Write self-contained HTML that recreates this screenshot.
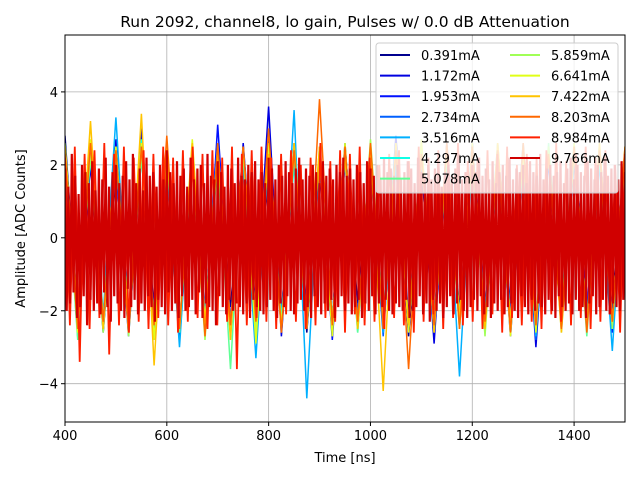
<!DOCTYPE html>
<html><head><meta charset="utf-8"><style>
body{margin:0;background:#fff;font-family:"Liberation Sans","DejaVu Sans",sans-serif}
svg text{font-family:"DejaVu Sans","Liberation Sans",sans-serif}
</style></head><body>
<svg id="c" width="640" height="480" xmlns="http://www.w3.org/2000/svg"></svg>
<script>
const labels=["0.391mA","1.172mA","1.953mA","2.734mA","3.516mA","4.297mA","5.078mA","5.859mA","6.641mA","7.422mA","8.203mA","8.984mA","9.766mA"];
const colors=["#00008f","#0000e0","#0010ff","#0060ff","#00b0ff","#10ffe6","#60ff96","#a0ff56","#e0ff16","#ffc400","#ff6800","#ff2000","#d00000"];
const s0=[2.8,-2.4,2.1,-2.6,1.9,-2.2,2.5,-2.0,2.3,-2.7,2.0,-2.3,2.6,-1.9,2.2,-2.5,1.8,-2.1,2.4,-2.6,2.0,-2.2,2.5,-1.8,2.3,-2.4,2.1,-2.7,1.9,-2.3,2.6,-2.0,2.2,-2.5,2.4,-1.9,2.0,-2.6,2.3,-2.2,2.1,-2.4,2.5,-2.0,2.4];
const s1=[2.3,-2.6,2.0,-2.3,2.7,-2.1,3.0,-2.4,2.2,-2.8,2.1,-2.2,2.4,-2.5,2.6,-2.0,3.6,-2.7,2.2,-2.3,2.0,-2.6,2.5,-2.1,2.3,-2.4,2.8,-2.2,2.1,-2.9,2.4,-2.3,2.6,-2.0,2.2,-2.5,2.3,-3.0,2.1,-2.4,2.5,-2.2,2.4,-2.6,2.0];
const s2=[2.1,-2.5,2.4,-2.2,2.0,-2.7,2.3,-2.1,2.5,-2.4,2.2,-2.6,3.1,-2.3,2.0,-2.5,2.4,-2.2,2.6,-2.0,2.3,-2.8,2.1,-2.4,2.5,-2.2,2.0,-2.6,2.4,-2.3,2.2,-2.1,2.6,-2.5,2.3,-2.7,2.1,-2.4,2.2,-2.3,2.5,-2.0,2.4,-2.6,2.3];
const s3=[2.4,-2.2,2.6,-2.5,2.1,-2.3,2.3,-2.8,2.0,-2.4,2.5,-2.1,2.2,-2.6,2.4,-2.3,2.7,-2.0,2.1,-2.5,2.3,-2.2,2.6,-2.4,2.0,-2.7,2.2,-2.3,2.5,-2.6,2.1,-2.2,2.4,-2.5,2.3,-2.0,2.6,-2.8,2.2,-2.4,2.1,-2.3,2.5,-2.2,2.2];
const s4=[2.2,-2.7,2.5,-2.1,3.3,-2.4,2.3,-2.6,2.1,-3.0,2.4,-2.2,2.6,-2.5,2.0,-3.3,2.2,-2.4,3.5,-4.4,2.3,-2.5,2.1,-2.2,2.4,-2.6,2.0,-2.3,2.5,-2.4,2.2,-3.8,2.3,-2.1,2.6,-2.5,2.1,-2.7,2.4,-2.2,2.3,-2.4,2.0,-3.1,2.3];
const s5=[2.5,-2.3,2.2,-2.5,2.4,-2.1,2.7,-2.4,2.3,-2.6,2.1,-2.3,2.5,-2.7,2.2,-2.4,2.6,-2.2,2.0,-2.5,2.4,-2.3,2.2,-2.6,2.5,-2.1,2.3,-2.4,2.6,-2.2,2.1,-2.5,2.4,-2.3,2.2,-2.6,2.5,-2.4,2.3,-2.1,2.6,-2.5,2.2,-2.3,2.4];
const s6=[2.3,-2.8,2.6,-2.2,2.4,-2.5,2.2,-2.3,2.5,-2.6,2.3,-2.4,2.1,-3.6,2.4,-2.2,2.6,-2.5,2.3,-2.4,2.5,-2.2,2.2,-2.6,2.4,-2.3,2.6,-2.5,2.2,-2.4,2.5,-2.1,2.3,-2.6,2.4,-2.3,2.2,-2.5,2.6,-2.2,2.4,-2.7,2.3,-2.4,2.2];
const s7=[2.6,-2.4,2.3,-2.6,2.5,-2.7,2.4,-2.3,2.6,-2.5,2.2,-2.8,2.5,-2.4,2.3,-2.6,2.4,-2.5,2.6,-2.3,2.2,-2.6,2.5,-2.4,2.7,-2.3,2.4,-2.5,2.3,-2.6,2.5,-2.4,2.2,-2.7,2.6,-2.5,2.4,-2.3,2.5,-2.6,2.3,-2.4,2.6,-2.5,2.4];
const s8=[2.4,-2.6,2.7,-2.4,2.5,-2.3,2.6,-2.8,2.4,-2.5,2.7,-2.4,2.3,-2.6,2.5,-2.9,2.6,-2.4,2.4,-2.5,2.3,-2.7,2.6,-2.5,2.4,-2.3,2.5,-2.6,2.7,-2.4,2.3,-2.5,2.6,-2.4,2.5,-2.7,2.4,-2.6,2.3,-2.4,2.6,-2.5,2.4,-2.3,2.5];
const s9=[2.5,-2.2,3.2,-2.5,2.4,-2.6,3.4,-3.5,2.5,-2.4,2.6,-2.3,2.4,-2.8,2.5,-2.2,2.3,-2.6,2.6,-2.4,2.5,-2.3,2.2,-2.5,2.4,-4.2,2.6,-2.4,2.3,-2.6,2.5,-2.2,2.4,-2.5,2.6,-2.3,2.5,-2.4,2.3,-2.6,2.4,-2.5,2.6,-2.3,2.4];
const s10=[2.3,-2.5,2.6,-2.3,2.4,-2.6,2.5,-2.4,2.8,-2.5,2.3,-2.7,2.6,-2.4,2.5,-2.3,3.0,-2.6,2.4,-2.5,3.8,-2.4,2.5,-2.3,2.6,-2.5,2.4,-3.6,2.3,-2.4,2.6,-2.5,2.5,-2.3,2.4,-2.6,2.6,-2.4,2.3,-2.5,2.5,-2.6,2.4,-2.3,2.5];
const s11=[2.2,-2.4,2.5,-3.4,2.3,-2.5,2.4,-2.2,2.6,-3.2,2.3,-2.4,2.5,-2.6,2.2,-2.3,2.4,-2.5,2.3,-2.2,2.5,-2.4,2.2,-2.6,2.4,-2.3,2.5,-2.2,2.3,-2.5,2.4,-2.4,2.2,-2.3,2.5,-3.6,2.3,-2.4,2.4,-2.2,2.5,-2.3,2.2,-2.5,2.3,
-2.1,2.4,-2.3,2.0,-2.5,2.2,-2.4,2.6,-2.2,2.1,-2.3,2.4,-2.6,2.3,-2.1,2.5,-2.4,2.2,-2.3,2.0,-2.5,2.3,-2.2,2.4,-2.4,2.1,-2.6,2.5,-2.3,2.2,-2.1,2.4,-2.5,2.3,-2.2,2.6,-2.4,2.1,-2.3,2.2,-2.5,2.4,-2.1,2.3,-2.6,2.5,-2.2,2.0,-2.4,2.3,-2.3,2.2,-2.5,2.4,-2.1,2.6,-2.3,2.1,-2.4,2.3,-2.2,2.5,-2.5,2.2,-2.3,2.4,-2.1,2.0,-2.6,2.3];
const s12=[1.9,-2.0,1.4,-1.8,2.3,-1.5,1.7,-2.2,1.2,-1.9,2.0,-1.6,1.8,-2.4,1.5,-1.7,2.1,-2.0,1.3,-1.8,
1.9,-2.1,1.6,-1.5,2.2,-1.9,1.4,-2.3,1.8,-1.6,2.0,-1.8,1.5,-2.0,1.7,-2.2,2.1,-1.4,1.6,-1.9,
2.3,-1.7,1.5,-2.1,1.9,-1.8,1.3,-2.0,2.2,-1.6,1.7,-1.9,1.8,-2.3,1.4,-1.7,2.0,-1.9,1.6,-2.1,
2.4,-1.5,1.8,-2.0,1.5,-1.8,2.1,-2.2,1.7,-1.6,1.9,-2.0,1.4,-1.9,2.2,-1.7,1.6,-2.1,1.9,-1.5,
2.0,-2.2,1.5,-1.8,2.3,-1.9,1.7,-2.0,1.6,-2.4,2.1,-1.6,1.8,-1.9,1.4,-2.1,2.0,-1.7,1.9,-2.0,
1.5,-1.8,2.2,-1.9,1.7,-2.1,1.6,-1.8,2.0,-2.2,1.8,-1.7,2.1,-1.9,1.6,-2.0,1.8,-2.1,1.5,-1.9,
2.2,-1.7,1.9,-2.0,1.6,-2.2,2.0,-1.8,1.7,-1.9,2.1,-1.6,1.8,-2.0,1.5,-2.1,1.9,-1.8,2.2,-1.7,
1.6,-2.0,1.9,-1.9,1.7,-2.2,2.0,-1.6,1.8,-1.9,1.5,-2.1,2.1,-1.8,1.7,-2.0,1.9,-1.7,1.6,-2.2,
2.0,-1.9,1.8,-1.6,2.2,-2.0,1.7,-1.8,1.9,-2.1,1.6,-1.9,2.0,-1.7,1.8,-2.2,1.5,-1.8,2.1,-2.0,
1.9,-1.6,1.7,-2.1,2.0,-1.8,1.6,-1.9,2.2,-1.7,1.8,-2.0,1.9,-2.1,1.7,-1.8,2.0,-1.9,1.6,-2.0,
1.8,-1.7,2.1,-2.2,1.9,-2.0,1.5,-1.9,2.2,-1.6,1.8,-2.1,1.7,-1.8,2.0,-2.3,1.6,-1.7,1.9,-2.0,
2.1,-1.8,1.4,-2.2,1.8,-1.9,2.0,-1.6,1.7,-2.1,1.9,-1.8,2.3,-1.7,1.6,-2.0,1.8,-2.2,1.5,-1.9,
2.0,-1.7,1.8,-2.0,2.2,-1.6,1.7,-2.1,1.9,-1.9,1.6,-2.2,2.1,-1.8,1.5,-2.0,1.8,-1.7,2.0,-2.1,
1.7,-1.9,2.2,-1.8,1.6,-2.0,1.9,-2.2,1.8,-1.6,2.0,-1.9,1.5,-2.1,2.1,-1.7,1.8,-2.0,1.7,-1.8,
2.3,-1.9,1.6,-2.1,1.9,-1.7,2.0,-2.0,1.7,-2.2,1.8,-1.6,2.1,-1.9,1.5,-2.0,1.9,-1.8,2.2,-2.1,
1.6,-1.7,2.0,-2.0,1.8,-1.9,1.7,-2.2,2.1,-1.8,1.9,-1.6,1.6,-2.1,2.0,-1.9,1.8,-1.7,2.2,-2.0,
1.7,-2.1,1.9,-1.8,2.0,-1.9,1.6,-2.0,2.1,-1.7,1.8];
const series=[s0,s1,s2,s3,s4,s5,s6,s7,s8,s9,s10,s11,s12];
const widths=[1.5,1.5,1.5,1.5,1.5,1.5,1.5,1.5,1.5,1.5,1.5,1.8,2.2];
const xTicks=[400,600,800,1000,1200,1400];
const yTicks=[-4,-2,0,2,4];
const X0=400,X1=1500,Y0=-5.05,Y1=5.56;
const L=65,R=625,T=35,B=422;
const sx=v=>L+(v-X0)/(X1-X0)*(R-L);
const sy=v=>B-(v-Y0)/(Y1-Y0)*(B-T);
const svg=document.getElementById('c');
const NS='http://www.w3.org/2000/svg';
function mk(t,a,p){const e=document.createElementNS(NS,t);for(const k in a)e.setAttribute(k,a[k]);(p||svg).appendChild(e);return e;}
const grid=mk('g',{});


xTicks.forEach(t=>{mk('line',{x1:sx(t),x2:sx(t),y1:T,y2:B,stroke:'#b0b0b0','stroke-width':0.8},grid);});
yTicks.forEach(t=>{mk('line',{x1:L,x2:R,y1:sy(t),y2:sy(t),stroke:'#b0b0b0','stroke-width':0.8},grid);});
const cp=mk('clipPath',{id:'cp'});
mk('rect',{x:L,y:T,width:R-L,height:B-T},cp);
const plot=mk('g',{'clip-path':'url(#cp)'});


series.forEach((s,i)=>{
  const n=s.length;
  const pts=s.map((v,j)=>sx(X0+j*(X1-X0)/(n-1)).toFixed(1)+','+sy(v).toFixed(1)).join(' ');
  const pl=mk('polyline',{points:pts,fill:'none',stroke:colors[i],'stroke-width':widths[i]},plot);
  
  
});
mk('rect',{x:L,y:T,width:R-L,height:B-T,fill:'none',stroke:'#000','stroke-width':1});
const xa=mk('g',{});


xTicks.forEach(t=>{mk('line',{x1:sx(t),x2:sx(t),y1:B,y2:B+4,stroke:'#000'},xa);const e=mk('text',{x:sx(t),y:B+18,'text-anchor':'middle','font-size':13},xa);e.textContent=t;});
const ya=mk('g',{});


yTicks.forEach(t=>{mk('line',{x1:L-4,x2:L,y1:sy(t),y2:sy(t),stroke:'#000'},ya);const e=mk('text',{x:L-7,y:sy(t)+5,'text-anchor':'end','font-size':13},ya);e.textContent=(t<0?'\u2212'+(-t):t);});
let e=mk('text',{x:(L+R)/2,y:462,'text-anchor':'middle','font-size':13});e.textContent='Time [ns]';


e=mk('text',{x:25,y:(T+B)/2,'text-anchor':'middle','font-size':13,transform:'rotate(-90 25 '+(T+B)/2+')'});e.textContent='Amplitude [ADC Counts]';


e=mk('text',{x:(L+R)/2,y:27,'text-anchor':'middle','font-size':15.5});e.textContent='Run 2092, channel8, lo gain, Pulses w/ 0.0 dB Attenuation';


const lg=mk('g',{});


mk('rect',{x:376,y:43,width:242,height:150,rx:3,fill:'#fff','fill-opacity':0.8,stroke:'#ccc'},lg);
labels.forEach((lb,i)=>{
  const col=i<7?0:1,row=i<7?i:i-7;
  const x=col?510:380,y=55+row*20.6;
  const g=mk('g',{},lg);
  
  
  mk('line',{x1:x,x2:x+30,y1:y,y2:y,stroke:colors[i],'stroke-width':2},g);
  const t=mk('text',{x:x+41,y:y+5,'font-size':13},g);t.textContent=lb;
});
</script>
</body></html>
